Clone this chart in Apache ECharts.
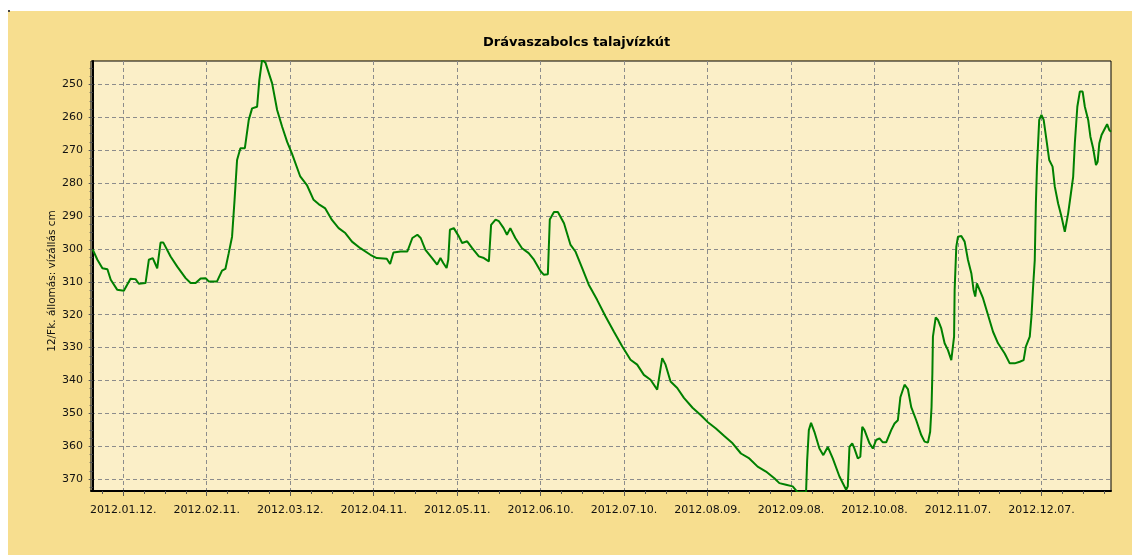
<!DOCTYPE html>
<html>
<head>
<meta charset="utf-8">
<script src="https://cdn.jsdelivr.net/npm/echarts@6/dist/echarts.min.js"></script>
<style>
html,body{margin:0;padding:0;background:#fff;}
#c{width:1132px;height:555px;}
</style>
</head>
<body>
<div id="c"></div>
<script>
// Day of year 2012 (0 = 2012.01.01.) and water level (cm)
const dayOfYear = [0,1.7,3.5,5.3,6.5,8.8,11.2,13.6,15.4,16.6,19,20.2,21.6,23.2,24.4,25.4,28,30.4,33.4,35.2,37,38.8,40.6,41.7,44.7,46.5,47.7,48.9,50.1,51,51.9,53.1,54.7,56.1,57.3,59.1,59.9,60.9,62.1,64.5,66.3,68.1,69.9,71.6,74.6,77,79.4,81.2,83.6,86,88.4,90.8,93.2,96.2,99.8,102.1,105.7,106.9,108.1,110.7,113.1,114.9,116.7,117.9,119.6,122,123.8,125,126,127.2,127.8,128.4,129.8,131.6,132.8,134.6,136.4,138.8,140.6,142.4,143.2,144.8,146,147.7,148.9,150.1,151.9,154.3,156.7,158.6,161,162.2,163.6,164.3,165.8,167.2,169.4,171.7,173.5,175.9,178.3,181.3,184.3,187.3,190.3,193.3,195.7,198.1,200.5,202.9,203.5,204.7,205.9,207.7,210.1,212.5,215.6,218.6,221,224,227,230,233,236,239,242,245,246.8,249.2,251.6,253.4,256.4,256.8,257.4,258.2,259.4,261.2,262.6,264.2,266,268.4,270.8,271.4,272,273,273.8,275,275.9,276.6,277.4,279.2,280.4,281.6,282.8,284,285.2,287,288.2,289.4,290.3,291.8,293,294.2,296,297.8,299,300.2,301,301.5,301.8,302,303,303.8,305,306.2,307.4,308.6,309.2,309.6,309.8,310.4,311,312.2,313.4,314.6,315.8,316.6,317.2,317.8,318.4,320,321.8,323.6,325.4,327.8,329.6,331.4,333.2,334.6,335.4,336.8,337.4,338,338.6,339,339.4,340.2,341,341.8,342.8,343.8,345,345.8,347,348.2,349.4,350.6,351.6,352.4,353,353.9,354.8,355.8,356.6,357.8,358.6,359.6,360.6,361.2,361.8,362.6,363.8,364.6,365.4,366];
const waterLevel = [300.2,303.3,305.9,306.2,309.4,312.4,312.7,309.1,309.2,310.6,310.4,303.3,302.8,305.9,298.1,298.1,302.3,305.4,308.9,310.4,310.4,309,308.9,309.9,309.9,306.6,306.1,301.3,296.3,285.1,273,269.4,269.4,260.8,257.3,256.8,248.7,242.5,243.4,249.7,257.8,262.9,267.5,271,278,280.6,285.1,286.4,287.7,291.2,293.7,295.2,297.8,299.8,301.8,302.8,303,304.6,301.1,300.8,300.8,296.7,295.7,296.7,300.3,302.8,304.8,302.8,304.3,305.8,303.3,294.2,293.7,296.2,298.2,297.7,299.8,302.3,302.8,303.8,292.7,291.1,291.6,293.7,295.7,293.7,296.7,299.8,301.3,303.3,306.8,307.9,307.7,291.1,288.8,288.8,292.2,298.7,300.8,305.8,310.9,315.5,320.5,325.1,329.6,333.7,335.2,338.3,339.8,342.8,342.3,333.2,335.2,340.3,342.3,345.3,348.3,350.6,352.6,354.6,356.9,359.1,362.2,363.7,366.2,367.7,369.7,371.2,371.7,372.2,374,374,364.2,355.1,352.9,355.6,360.7,362.7,360.2,363.7,369.2,373.2,372.2,360.2,359.1,360.7,363.7,363.2,354.1,355.1,359.1,360.7,358.1,357.6,358.8,358.8,355.1,353.1,352.1,345.1,341.3,342.6,348.1,352.1,356.6,358.6,358.9,355.6,348.1,337.8,326.7,320.8,321.6,324.2,328.7,330.8,333.8,333.8,326.7,312.5,299.3,296.3,296.1,297.8,303.4,307.4,312.5,314.5,310.5,310.3,315,320.1,325.2,328.7,331.8,334.8,334.8,334.3,333.8,329.7,326.7,320.6,311.5,303.4,286.2,275,260.8,259.3,260.8,266.9,273,275,281.1,286.2,290.2,294.8,289.2,283.1,278.1,267.9,256.8,252.2,252.2,256.8,260.8,265.9,269.5,274.5,273.5,267.9,265.4,263.4,262.1,263.9,264.4];

const xTickDays = [11,41,71,101,131,161,191,221,251,281,311,341];
const xTickLabels = ['2012.01.12.','2012.02.11.','2012.03.12.','2012.04.11.','2012.05.11.','2012.06.10.','2012.07.10.','2012.08.09.','2012.09.08.','2012.10.08.','2012.11.07.','2012.12.07.'];
const yTicks = [250,260,270,280,290,300,310,320,330,340,350,360,370];

const xMinorTicks = [];
for (let d = 3.5; d < 366; d += 7.5) if (xTickDays.indexOf(d) < 0) xMinorTicks.push(d);
const yMinorTicks = [];
for (let v = 245; v < 374; v += 2.5) if (yTicks.indexOf(v) < 0) yMinorTicks.push(v);

const points = dayOfYear.map((d, i) => [d, waterLevel[i]]);

const X_MIN = -0.6, X_MAX = 366, Y_MIN = 242.9, Y_MAX = 373.6;
const FONT = '"DejaVu Sans", Verdana, sans-serif';

const chart = echarts.init(document.getElementById('c'), null, {renderer: 'canvas'});
chart.setOption({
  animation: false,
  backgroundColor: '#ffffff',
  graphic: [
    {type: 'rect', z: -10, shape: {x: 8, y: 11, width: 1124, height: 544}, style: {fill: '#F7DE8F'}},
    {type: 'rect', z: -9, shape: {x: 8, y: 10, width: 2, height: 2}, style: {fill: '#444'}}
  ],
  title: {
    text: 'Drávaszabolcs talajvízkút',
    left: 483, top: 36, padding: 0,
    textStyle: {fontFamily: FONT, fontSize: 13, fontWeight: 'bold', color: '#000'}
  },
  grid: {
    left: 91, top: 61, right: 21, bottom: 64,
    show: true, backgroundColor: '#FBEFC8', borderColor: '#000', borderWidth: 1
  },
  xAxis: [{
    type: 'value', min: X_MIN, max: X_MAX,
    axisLine: {show: true, lineStyle: {color: '#000', width: 2}},
    axisTick: {show: true, customValues: xTickDays, length: 5, lineStyle: {color: '#555'}},
    axisLabel: {
      customValues: xTickDays, margin: 14, color: '#111', fontFamily: FONT, fontSize: 11,
      formatter: v => xTickLabels[xTickDays.indexOf(v)] || ''
    },
    splitLine: {show: true, lineStyle: {color: '#8c8c8c', type: [4, 3], width: 1}}
  }, {
    type: 'value', min: X_MIN, max: X_MAX, position: 'bottom',
    axisLine: {show: false},
    axisTick: {show: true, customValues: xMinorTicks, length: 3, lineStyle: {color: '#555'}},
    axisLabel: {show: false},
    splitLine: {show: false}
  }],
  yAxis: [{
    type: 'value', inverse: true, min: Y_MIN, max: Y_MAX,
    name: '12/Fk. állomás: vízállás cm', nameLocation: 'middle', nameGap: 33,
    nameMoveOverlap: false,
    nameTextStyle: {fontFamily: FONT, fontSize: 10.5, color: '#111', padding: [0, 10, 0, 0]},
    axisLine: {show: true, lineStyle: {color: '#000', width: 2}},
    axisTick: {show: true, customValues: yTicks, length: 4, lineStyle: {color: '#555'}},
    axisLabel: {customValues: yTicks, margin: 8, color: '#111', fontFamily: FONT, fontSize: 11},
    splitLine: {show: true, lineStyle: {color: '#8c8c8c', type: [4, 3], width: 1}}
  }, {
    type: 'value', inverse: true, min: Y_MIN, max: Y_MAX, position: 'left',
    axisLine: {show: false},
    axisTick: {show: true, customValues: yMinorTicks, length: 3, lineStyle: {color: '#555'}},
    axisLabel: {show: false},
    splitLine: {show: false}
  }],
  series: [{
    type: 'line', data: points, xAxisIndex: 0, yAxisIndex: 0,
    showSymbol: false, clip: true,
    lineStyle: {color: '#008000', width: 2}
  }]
});
</script>
</body>
</html>
